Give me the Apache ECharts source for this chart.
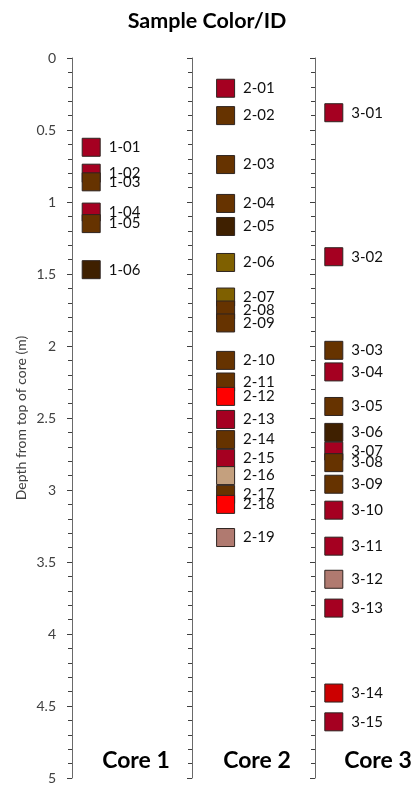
<!DOCTYPE html>
<html>
<head>
<meta charset="utf-8">
<title>Sample Color/ID</title>
<script src="https://cdn.jsdelivr.net/npm/echarts@6.0.0/dist/echarts.min.js"></script>
<style>
  html, body { margin: 0; padding: 0; background: #fff; }
  #chart { width: 414px; height: 788px; }
</style>
</head>
<body>
<div id="chart"></div>
<script>
// Depth (m) of each sample
const core1Ids = ['1-01', '1-02', '1-03', '1-04', '1-05', '1-06'];
const core1Depth = [0.62, 0.80, 0.86, 1.07, 1.15, 1.47];
const core1Colors = ['#A50021', '#A50021', '#663300', '#A50021', '#663300', '#3F2000'];

const core2Ids = ['2-01', '2-02', '2-03', '2-04', '2-05', '2-06', '2-07', '2-08', '2-09', '2-10',
  '2-11', '2-12', '2-13', '2-14', '2-15', '2-16', '2-17', '2-18', '2-19'];
const core2Depth = [0.21, 0.40, 0.74, 1.01, 1.17, 1.42, 1.66, 1.75, 1.84, 2.10,
  2.25, 2.35, 2.51, 2.65, 2.78, 2.90, 3.03, 3.10, 3.33];
const core2Colors = ['#A50021', '#663300', '#663300', '#663300', '#3F2000', '#7F6000', '#7F6000', '#663300', '#663300', '#663300',
  '#663300', '#FF0000', '#A50021', '#663300', '#A50021', '#C4A07E', '#663300', '#FF0000', '#B07A70'];

const core3Ids = ['3-01', '3-02', '3-03', '3-04', '3-05', '3-06', '3-07', '3-08', '3-09', '3-10',
  '3-11', '3-12', '3-13', '3-14', '3-15'];
const core3Depth = [0.38, 1.38, 2.03, 2.18, 2.42, 2.60, 2.73, 2.81, 2.96, 3.14,
  3.39, 3.62, 3.82, 4.41, 4.61];
const core3Colors = ['#A50021', '#A50021', '#663300', '#A50021', '#663300', '#3F2000', '#A50021', '#663300', '#663300', '#A50021',
  '#A50021', '#B07A70', '#A50021', '#CC0000', '#A50021'];

// horizontal position of the markers within each core column
const coreX = [0.16, 0.28, 0.19];
const coreNames = ['Core 1', 'Core 2', 'Core 3'];

const fontFamily = 'Lato, "Open Sans", sans-serif';

const cores = [
  { ids: core1Ids, depth: core1Depth, colors: core1Colors },
  { ids: core2Ids, depth: core2Depth, colors: core2Colors },
  { ids: core3Ids, depth: core3Depth, colors: core3Colors },
];

const gridLefts = [72, 192, 315];
const coreTitleX = [131, 252, 373];

const chart = echarts.init(document.getElementById('chart'));

const option = {
  animation: false,
  backgroundColor: '#fff',
  title: [
    {
      text: 'Sample Color/ID',
      left: 'center',
      top: 5,
      textStyle: { fontFamily, fontSize: 21.5, fontWeight: 'bold', color: '#000' },
    },
    ...coreNames.map((name, i) => ({
      text: name,
      left: coreTitleX[i],
      textAlign: 'center',
      top: 744,
      textStyle: { fontFamily, fontSize: 23, fontWeight: 'bold', color: '#000' },
    })),
  ],
  grid: gridLefts.map((left) => ({
    left: left,
    top: 58,
    width: 120,
    bottom: 10,
  })),
  xAxis: gridLefts.map((_, i) => ({
    type: 'value',
    gridIndex: i,
    min: 0,
    max: 1,
    show: false,
  })),
  yAxis: gridLefts.map((_, i) => ({
    type: 'value',
    gridIndex: i,
    inverse: true,
    min: 0,
    max: 5,
    interval: 0.5,
    name: i === 0 ? 'Depth from top of core (m)' : '',
    nameLocation: 'middle',
    nameGap: 44,
    nameTextStyle: { fontFamily, fontSize: 14, color: '#404040' },
    axisLine: { show: true, lineStyle: { color: '#6a6a6a', width: 1 } },
    axisTick: { show: true, length: 5, lineStyle: { color: '#404040' } },
    minorTick: { show: true, splitNumber: 5, length: 4, lineStyle: { color: '#404040' } },
    axisLabel: {
      show: i === 0,
      fontFamily,
      fontSize: 14,
      color: '#404040',
      margin: 16,
    },
    splitLine: { show: false },
  })),
  series: cores.map((core, i) => ({
    type: 'scatter',
    xAxisIndex: i,
    yAxisIndex: i,
    symbol: 'rect',
    symbolSize: 18,
    itemStyle: { opacity: 1, borderColor: '#2e2420', borderWidth: 1 },
    label: {
      show: true,
      position: 'right',
      distance: 8,
      formatter: '{b}',
      fontFamily,
      fontSize: 15,
      color: '#111',
    },
    data: core.depth.map((d, j) => ({
      name: core.ids[j],
      value: [coreX[i], d],
      itemStyle: { color: core.colors[j] },
    })),
  })),
};

chart.setOption(option);
</script>
</body>
</html>
